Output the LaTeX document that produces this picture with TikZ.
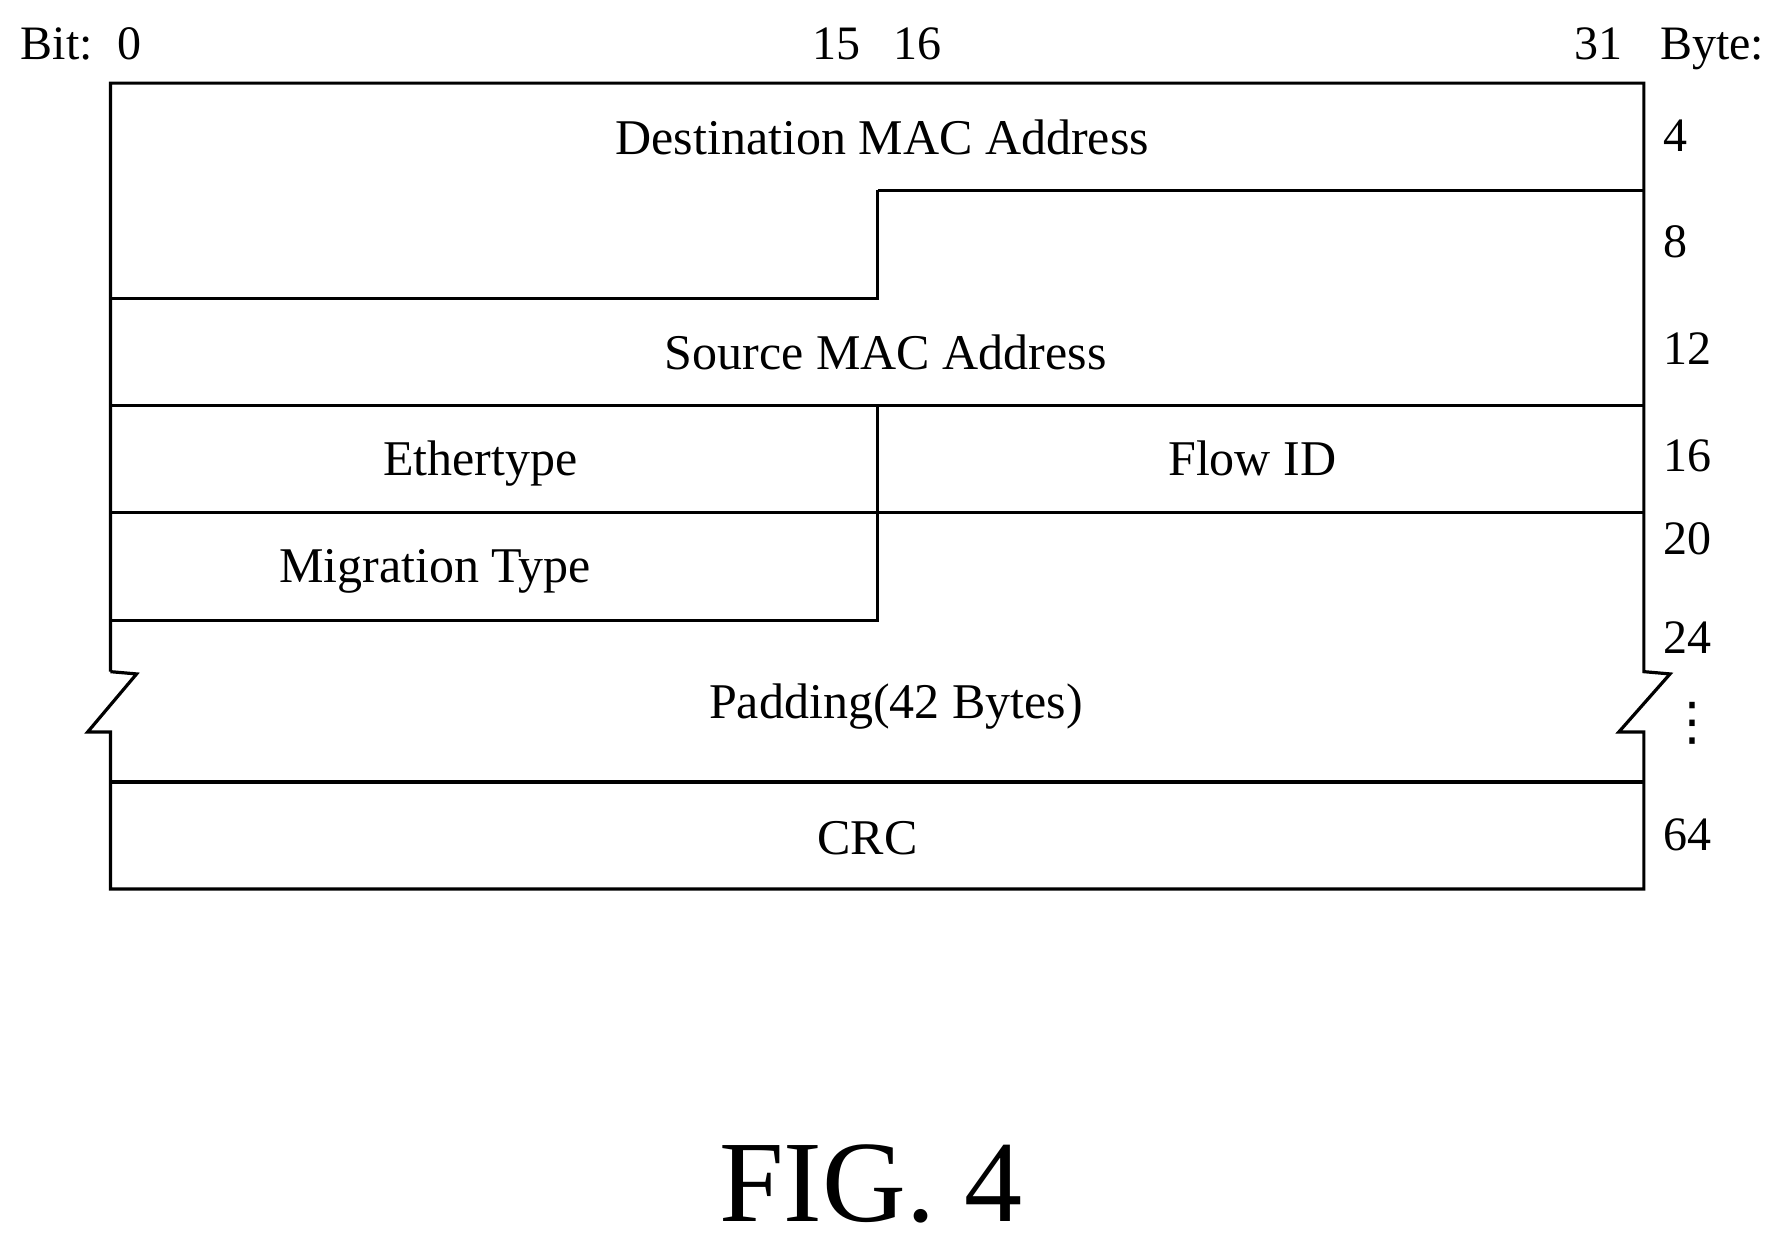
\documentclass[tikz,border=0pt]{standalone}
\usepackage{fontspec}
\setmainfont{Liberation Serif}
\newfontfamily\djv{DejaVu Sans}
\begin{document}
\begin{tikzpicture}[x=0.02cm,y=-0.02cm,line width=1.6pt,
  lab/.style={font=\fontsize{24}{28}\selectfont,inner sep=0pt},
  fld/.style={font=\fontsize{25}{30}\selectfont,inner sep=0pt,anchor=base}]
\useasboundingbox (0,0) rectangle (1568,1092);
% outline
\coordinate (tl) at (97,73); \coordinate (tr) at (1444,73);
\draw (97,590) -- (tl) -- (tr) -- (1444,590) -- (1467,592) -- (1422,643) -- (1444,643) -- (1444,781) -- (97,781) -- (97,643) -- (77,643) -- (120,592) -- (97,590);
\draw (771,167) -- (1444,167);
\draw (771,167) -- (771,262) -- (97,262);
\draw (97,356) -- (1444,356);
\draw (97,450) -- (1444,450);
\draw (771,356) -- (771,545) -- (97,545);
\draw (97,687) -- (1444,687);
% headers
\node[lab,anchor=base west] (bit) at (17,52) {Bit:\ \ 0};
\node[lab,anchor=base] (b15) at (735,52) {15};
\node[lab,anchor=base] (b16) at (806,52) {16};
\node[lab,anchor=base] (b31) at (1404,52) {31};
\node[lab,anchor=base west] (byte) at (1457,52) {Byte:};
\foreach \t/\y/\n in {4/133/a,8/226/b,12/320/c,16/414/d,20/487/e,24/574/f,64/747/g}
  \node[lab,anchor=base west] (r\n) at (1460,\y) {\t};
\node[font=\djv\fontsize{26}{30}\selectfont,inner sep=0pt] (dots) at (1487,635) {⋮};
% fields
\node[fld] (dst) at (775,136) {Destination MAC Address};
\node[fld] (src) at (778,325) {Source MAC Address};
\node[fld] (eth) at (422,418) {Ethertype};
\node[fld] (flow) at (1100,418) {Flow ID};
\node[fld] (mig) at (382,512) {Migration Type};
\node[fld] (pad) at (787,631) {Padding(42 Bytes)};
\node[fld] (crc) at (762,751) {CRC};
\node[font=\fontsize{58}{64}\selectfont,inner sep=0pt] (fig) at (765,1040) {FIG. 4};
\end{tikzpicture}
\end{document}
